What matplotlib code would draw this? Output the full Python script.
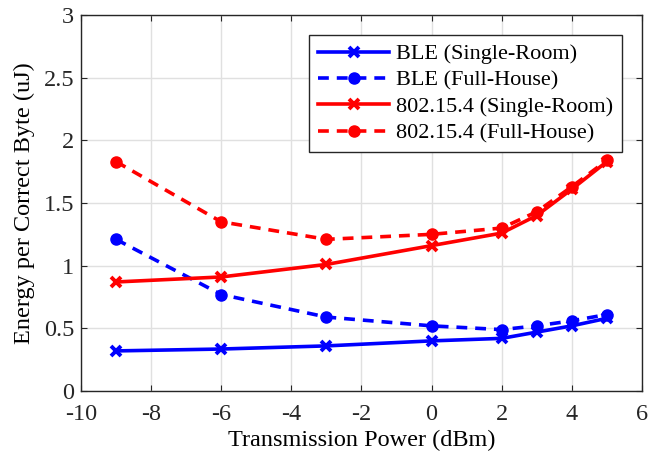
import numpy as np
import matplotlib.pyplot as plt

plt.rcParams['font.family'] = ['Liberation Serif', 'DejaVu Serif']
plt.rcParams['font.size'] = 17.5
plt.rcParams['axes.unicode_minus'] = False

tx_power = [-9, -6, -3, 0, 2, 3, 4, 5]
ble_single = [0.32, 0.335, 0.36, 0.40, 0.42, 0.47, 0.52, 0.58]
ble_full = [1.21, 0.77, 0.59, 0.52, 0.49, 0.52, 0.56, 0.61]
zb_single = [0.87, 0.91, 1.01, 1.16, 1.26, 1.40, 1.61, 1.83]
zb_full = [1.83, 1.35, 1.21, 1.25, 1.30, 1.43, 1.63, 1.84]

fig = plt.figure(figsize=(6.51, 4.61), dpi=100)
ax = fig.add_axes([0.1244, 0.1518, 0.8616, 0.8157])

lw = 2.6
ax.plot(tx_power, ble_single, '-', color='#0000ff', lw=lw, marker='x', ms=6.5, mew=2.8,
        label='BLE (Single-Room)')
ax.plot(tx_power, ble_full, '--', color='#0000ff', lw=lw, marker='o', ms=8,
        dashes=(3, 2.2), label='BLE (Full-House)')
ax.plot(tx_power, zb_single, '-', color='#ff0000', lw=lw, marker='x', ms=6.5, mew=2.8,
        label='802.15.4 (Single-Room)')
ax.plot(tx_power, zb_full, '--', color='#ff0000', lw=lw, marker='o', ms=8,
        dashes=(3, 2.2), label='802.15.4 (Full-House)')

ax.set_xlim(-10, 6)
ax.set_ylim(0, 3)
ax.set_xticks(np.arange(-10, 7, 2))
ax.set_yticks(np.arange(0, 3.01, 0.5))
ax.set_yticklabels(['0', '0.5', '1', '1.5', '2', '2.5', '3'])
ax.grid(True, color='#e0e0e0', lw=1)
ax.set_axisbelow(True)
for s in ax.spines.values():
    s.set_color('#262626')
    s.set_linewidth(1)
ax.tick_params(direction='in', length=4, color='#262626', labelcolor='#262626',
               top=True, right=True)
ax.tick_params(axis='x', pad=9)
ax.tick_params(axis='y', pad=5)
ax.set_xlabel('Transmission Power (dBm)', labelpad=4)
ax.set_ylabel('Energy per Correct Byte (uJ)', labelpad=6)

leg = ax.legend(loc='upper right', fontsize=16, fancybox=False, framealpha=1,
                edgecolor='#262626', handlelength=3.2, borderaxespad=0.9,
                labelspacing=0.26, handletextpad=0.3)
leg.get_frame().set_linewidth(1)

fig.savefig('out.png', dpi=100)
